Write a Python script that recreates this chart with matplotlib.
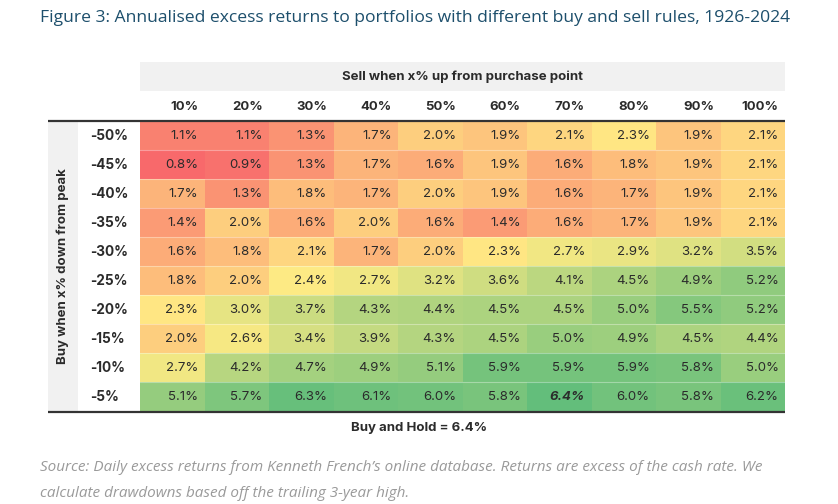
import numpy as np
import matplotlib
matplotlib.use("Agg")
import matplotlib.pyplot as plt
from matplotlib.colors import LinearSegmentedColormap, TwoSlopeNorm
from matplotlib.patches import Rectangle
from matplotlib.lines import Line2D

sell_labels = ["10%", "20%", "30%", "40%", "50%", "60%", "70%", "80%", "90%", "100%"]
buy_labels = ["-50%", "-45%", "-40%", "-35%", "-30%", "-25%", "-20%", "-15%", "-10%", "-5%"]
returns = np.array([
    [1.1, 1.1, 1.3, 1.7, 2.0, 1.9, 2.1, 2.3, 1.9, 2.1],
    [0.8, 0.9, 1.3, 1.7, 1.6, 1.9, 1.6, 1.8, 1.9, 2.1],
    [1.7, 1.3, 1.8, 1.7, 2.0, 1.9, 1.6, 1.7, 1.9, 2.1],
    [1.4, 2.0, 1.6, 2.0, 1.6, 1.4, 1.6, 1.7, 1.9, 2.1],
    [1.6, 1.8, 2.1, 1.7, 2.0, 2.3, 2.7, 2.9, 3.2, 3.5],
    [1.8, 2.0, 2.4, 2.7, 3.2, 3.6, 4.1, 4.5, 4.9, 5.2],
    [2.3, 3.0, 3.7, 4.3, 4.4, 4.5, 4.5, 5.0, 5.5, 5.2],
    [2.0, 2.6, 3.4, 3.9, 4.3, 4.5, 5.0, 4.9, 4.5, 4.4],
    [2.7, 4.2, 4.7, 4.9, 5.1, 5.9, 5.9, 5.9, 5.8, 5.0],
    [5.1, 5.7, 6.3, 6.1, 6.0, 5.8, 6.4, 6.0, 5.8, 6.2],
])
buy_and_hold = 6.4

title = "Figure 3: Annualised excess returns to portfolios with different buy and sell rules, 1926-2024"
col_title = "Sell when x% up from purchase point"
row_title = "Buy when x% down from peak"
source = ("Source: Daily excess returns from Kenneth French\u2019s online database. Returns are excess of the cash rate. We\n"
          "calculate drawdowns based off the trailing 3-year high.")

W, H = 838, 504
fig = plt.figure(figsize=(W / 100, H / 100), dpi=100)
fig.patch.set_facecolor("white")

def fx(px):
    return px / W

def fy(py):
    return 1 - py / H

TFONT = ["Inter", "DejaVu Sans"]
TXT = "#2b2b2b"
GRAY = "#f1f1f1"

# layout in pixels
L, R, T, B = 140, 785, 121.5, 411

ax = fig.add_axes([fx(L), fy(B), fx(R - L), (B - T) / H])
cmap = LinearSegmentedColormap.from_list("ryg", ["#F8696B", "#FFEB84", "#63BE7B"])
norm = TwoSlopeNorm(vmin=returns.min(), vcenter=np.median(returns), vmax=returns.max())
ax.pcolormesh(np.arange(11), np.arange(11), returns, cmap=cmap, norm=norm,
              edgecolors="none", shading="flat")
ax.set_xlim(0, 10)
ax.set_ylim(10, 0)
ax.axis("off")

nr, nc = returns.shape
cw = (R - L) / nc
rh = (B - T) / nr
pad = 6.5 / cw
best = np.unravel_index(np.argmax(returns), returns.shape)
for i in range(nr):
    for j in range(nc):
        bold = (i, j) == best
        ax.text(j + 1 - pad, i + 0.5, f"{returns[i, j]:.1f}%", ha="right", va="center",
                fontsize=9.5, color=TXT, family=TFONT,
                fontweight="bold" if bold else "normal",
                fontstyle="italic" if bold else "normal")
# row separators
for i in range(1, nr):
    ax.axhline(i, color="white", lw=0.8, alpha=0.35)

# column labels
for j, lab in enumerate(sell_labels):
    ax.text(j + 1 - pad, -(122 - 107.5) / rh, lab, ha="right", va="center",
            fontsize=9.5, color=TXT, family=TFONT, fontweight="bold", clip_on=False)
# row labels
for i, lab in enumerate(buy_labels):
    ax.text(-(L - 90) / cw, i + 0.5, lab, ha="left", va="center",
            fontsize=9.8, color=TXT, family=TFONT, fontweight="bold", clip_on=False)

# header band
fig.add_artist(Rectangle((fx(L), fy(91)), fx(R - L), (91 - 62) / H,
                         transform=fig.transFigure, facecolor=GRAY, edgecolor="none", zorder=0))
fig.text(fx((L + R) / 2), fy(77), col_title, ha="center", va="center",
         fontsize=9.5, color=TXT, family=TFONT, fontweight="bold")

# left band
fig.add_artist(Rectangle((fx(48), fy(412)), fx(78 - 48), (412 - 121) / H,
                         transform=fig.transFigure, facecolor=GRAY, edgecolor="none", zorder=0))
fig.text(fx(62.5), fy(266), row_title, ha="center", va="center", rotation=90,
         fontsize=9.5, color=TXT, family=TFONT, fontweight="bold")

# thick rules
for yy in (120.5, 412):
    fig.add_artist(Line2D([fx(48), fx(R)], [fy(yy), fy(yy)], transform=fig.transFigure,
                          color="#333333", lw=1.6, solid_capstyle="butt"))

fig.text(fx(419), fy(428), f"Buy and Hold = {buy_and_hold:.1f}%", ha="center", va="center",
         fontsize=9.5, color=TXT, family=TFONT, fontweight="bold")

fig.text(fx(40), fy(18), title, ha="left", va="center", fontsize=12.6,
         color="#1d4f6c", family=["Open Sans", "DejaVu Sans"])

fig.text(fx(40), fy(480.5), source, ha="left", va="center", fontsize=11.0,
         color="#9a9a9a", family=["Open Sans", "DejaVu Sans"], style="italic",
         linespacing=1.95)

fig.savefig("out.png", dpi=100, facecolor="white")
